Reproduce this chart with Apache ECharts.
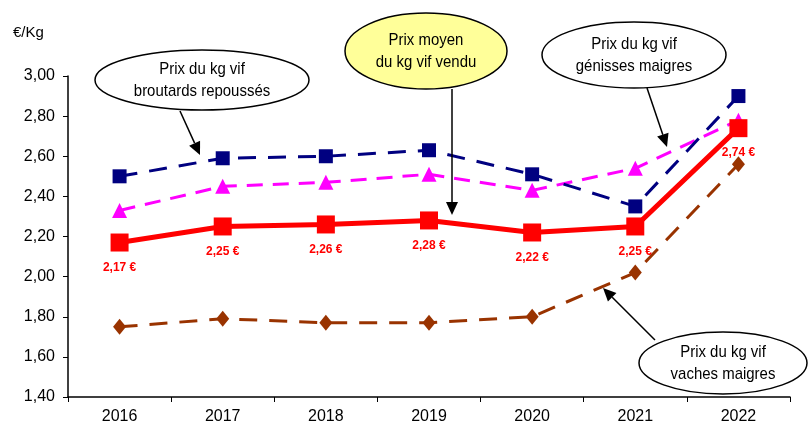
<!DOCTYPE html>
<html>
<head>
<meta charset="utf-8">
<script src="https://cdn.jsdelivr.net/npm/echarts@6/dist/echarts.min.js"></script>
<style>html,body{margin:0;padding:0;background:#fff;}#c{width:809px;height:425px;}</style>
</head>
<body>
<div id="c"></div>
<script>
var years = ['2016','2017','2018','2019','2020','2021','2022'];
var broutards = [2.50, 2.59, 2.60, 2.63, 2.51, 2.35, 2.90];
var genisses = [2.33, 2.45, 2.47, 2.51, 2.43, 2.54, 2.78];
var moyen = [2.17, 2.25, 2.26, 2.28, 2.22, 2.25, 2.74];
var vaches = [1.75, 1.79, 1.77, 1.77, 1.80, 2.02, 2.56];
var yTicks = ['1,40','1,60','1,80','2,00','2,20','2,40','2,60','2,80','3,00'];

var FONT = "'Liberation Sans', Arial, sans-serif";
var chart = echarts.init(document.getElementById('c'), null, {renderer:'canvas'});

function arrow(x1, y1, x2, y2) {
  var dx = x2 - x1, dy = y2 - y1, L = Math.sqrt(dx*dx + dy*dy);
  var ux = dx / L, uy = dy / L, hl = 13, hw = 6;
  var bx = x2 - ux*hl, by = y2 - uy*hl;
  return [
    {type:'line', z:50, shape:{x1:x1, y1:y1, x2:bx, y2:by}, style:{stroke:'#000', lineWidth:1.5}},
    {type:'polygon', z:50, shape:{points:[[x2,y2],[bx - uy*hw, by + ux*hw],[bx + uy*hw, by - ux*hw]]}, style:{fill:'#000'}}
  ];
}
function btext(t, x, y) {
  return {type:'text', z:61, x:x, y:y, scaleX:0.88, scaleY:1,
    style:{text:t, x:0, y:0, textAlign:'center', textVerticalAlign:'middle', font:'17px ' + FONT, fill:'#000'}};
}
function bubble(cx, cy, rx, ry, fill, l1, l2, dy) {
  return [
    {type:'ellipse', z:60, shape:{cx:cx, cy:cy, rx:rx, ry:ry}, style:{fill:fill, stroke:'#000', lineWidth:1.5}},
    btext(l1, cx, cy - dy),
    btext(l2, cx, cy + dy)
  ];
}

var graphics = [].concat(
  arrow(180, 111, 200, 155),
  arrow(452, 89, 452, 215),
  arrow(647, 88, 667, 147),
  arrow(655, 340, 603, 288),
  bubble(202, 80, 107, 30, '#fff', 'Prix du kg vif', 'broutards repoussés', 11),
  bubble(426, 51, 81, 38, '#FFFF99', 'Prix moyen', 'du kg vif vendu', 11),
  bubble(634, 55, 92, 33, '#fff', 'Prix du kg vif', 'génisses maigres', 11),
  bubble(723, 363, 84, 31, '#fff', 'Prix du kg vif', 'vaches maigres', 11),
  [{type:'text', z:61, style:{text:'€/Kg', x:13, y:33, textVerticalAlign:'middle', font:'15px ' + FONT, fill:'#000'}}]
);

var option = {
  animation: false,
  backgroundColor: '#fff',
  grid: {left:68, right:19, top:76, bottom:28, containLabel:false},
  xAxis: {
    type:'category', data: years, boundaryGap: true,
    axisLine:{lineStyle:{color:'#000', width:1.5}},
    axisTick:{show:true, inside:false, length:5, lineStyle:{color:'#000'}},
    axisLabel:{color:'#000', fontSize:16, fontFamily:FONT, margin:12}
  },
  yAxis: {
    type:'value', min:1.4, max:3.0, interval:0.2,
    axisLine:{show:true, lineStyle:{color:'#000', width:1.5}},
    axisTick:{show:true, inside:false, length:5, lineStyle:{color:'#000'}},
    splitLine:{show:false},
    axisLabel:{color:'#000', fontSize:16, fontFamily:FONT, margin:13,
      formatter:function(v){ var i = Math.round((v - 1.4) / 0.2); return yTicks[i]; }}
  },
  series: [
    {name:'vaches', type:'line', data:vaches, symbol:'diamond', symbolSize:[13,16],
      itemStyle:{color:'#993300'}, lineStyle:{color:'#993300', width:3, type:[18,12]}, z:2},
    {name:'genisses', type:'line', data:genisses, symbol:'triangle', symbolSize:15,
      itemStyle:{color:'#FF00FF'}, lineStyle:{color:'#FF00FF', width:3, type:[16,10]}, z:3},
    {name:'broutards', type:'line', data:broutards, symbol:'rect', symbolSize:14,
      itemStyle:{color:'#000080'}, lineStyle:{color:'#000080', width:3, type:[18,12]}, z:4},
    {name:'moyen', type:'line', data:moyen, symbol:'rect', symbolSize:18,
      itemStyle:{color:'#FF0000'}, lineStyle:{color:'#FF0000', width:5}, z:5,
      label:{show:true, position:'bottom', distance:10, color:'#FF0000', fontWeight:'bold', fontSize:12,
        fontFamily:FONT,
        formatter:function(p){ return p.value.toFixed(2).replace('.', ',') + ' €'; }}}
  ],
  graphic: graphics
};
chart.setOption(option);
</script>
</body>
</html>
